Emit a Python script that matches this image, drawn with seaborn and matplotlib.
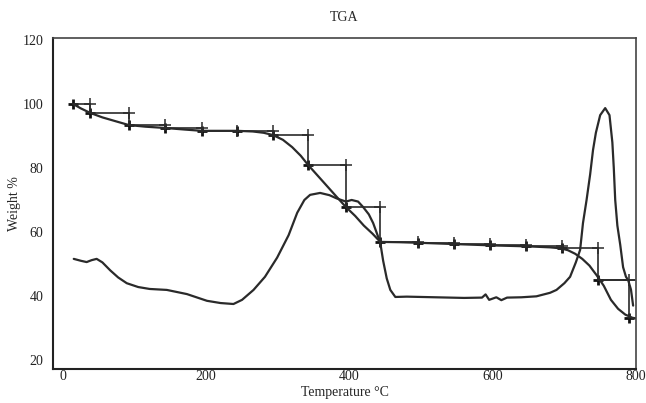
import matplotlib
matplotlib.use("Agg")
import matplotlib.pyplot as plt
import seaborn as sns
import pandas as pd

# TGA weight curve (smooth)
tga_x = [14, 25, 38, 55, 75, 92, 115, 142, 170, 194, 220, 243, 265, 280, 293, 307, 320, 332, 342,
         352, 362, 372, 382, 395, 408, 420, 432, 443, 470, 500, 550, 600, 650, 680, 695, 705, 715,
         725, 735, 745, 755, 765, 775, 785, 795, 800]
tga_y = [100, 98.6, 97.2, 95.8, 94.5, 93.4, 92.9, 92.5, 92.0, 91.6, 91.6, 91.6, 91.4, 91.0, 90.3,
         88.8, 86.5, 83.8, 81, 78.5, 76, 73.5, 71, 67.8, 65, 62, 59.5, 56.9, 56.8, 56.6, 56.2, 55.8,
         55.5, 55.2, 54.9, 54.3, 53.2, 51.6, 49.5, 46.5, 43.2, 38.8, 36.0, 34.2, 33.2, 33]

# Staircase points
step_x = [14, 38, 92, 142, 194, 243, 293, 342, 395, 443, 496, 546, 596, 647, 697, 747, 790]
step_y = [100, 97.2, 93.4, 92.5, 91.6, 91.6, 90.3, 81, 67.8, 56.9, 56.7, 56.3, 55.8, 55.5, 54.9, 45, 33]

# Second (derivative-like) curve
d_x = [15, 25, 33, 40, 47, 55, 66, 77, 89, 105, 121, 145, 173, 201, 220, 238, 250, 266, 282, 299,
       315, 327, 337, 345, 359, 372, 382, 395, 403, 412, 419, 427, 433, 440, 443, 447, 452, 457, 464,
       480, 520, 560, 585, 590, 595, 605, 612, 620, 640, 661, 680, 689, 700, 708, 716, 722, 726, 731,
       736, 740, 744, 750, 757, 763, 767, 769, 771, 774, 778, 782, 786, 789, 793, 796]
d_y = [51.6, 51.0, 50.6, 51.2, 51.6, 50.5, 48, 45.8, 44, 42.8, 42.2, 41.9, 40.6, 38.5, 37.8, 37.5,
       38.8, 41.9, 46, 52, 59, 66, 70, 71.6, 72.2, 71.5, 70.5, 69.5, 70, 69.5, 67.8, 65.5, 62.8, 58.5,
       56.6, 51, 45.5, 41.9, 39.7, 39.8, 39.6, 39.4, 39.5, 40.5, 38.8, 39.6, 38.7, 39.5, 39.6, 39.9,
       41, 41.9, 44, 46, 50.5, 54.4, 62.8, 70, 78, 85.6, 91, 96.5, 98.7, 96.5, 88, 80, 70, 62, 56,
       49, 46, 45, 42, 37]

x_ticks = [0, 200, 400, 600, 800]
y_ticks = [20, 40, 60, 80, 100, 120]

sns.set_style("white")
plt.rcParams['font.family'] = ['Liberation Serif', 'DejaVu Serif']

fig = plt.figure(figsize=(6.46, 4.03), dpi=100)
ax = fig.add_axes([0.082, 0.0844, 0.9025, 0.8213])

df_t = pd.DataFrame({"T": tga_x, "W": tga_y})
df_d = pd.DataFrame({"T": d_x, "W": d_y})
df_s = pd.DataFrame({"T": step_x, "W": step_y})

sns.lineplot(data=df_d, x="T", y="W", ax=ax, color="#2a2a2a", lw=1.6, sort=False)
sns.lineplot(data=df_t, x="T", y="W", ax=ax, color="#2a2a2a", lw=1.6, sort=False)
sns.lineplot(data=df_s, x="T", y="W", ax=ax, color="#2a2a2a", lw=1.2, sort=False,
             drawstyle="steps-post")
# markers at data points and at step corners
corner_x = step_x[1:]
corner_y = step_y[:-1]
sns.scatterplot(x=step_x, y=step_y, ax=ax, marker="+", s=45, color="#111111", linewidth=2.0)
sns.scatterplot(x=corner_x, y=corner_y, ax=ax, marker="+", s=70, color="#2a2a2a", linewidth=1.1)
# last horizontal segment at 45 extends to the right edge
ax.plot([747, 799], [45, 45], color="#2a2a2a", lw=1.2)

ax.set_xlim(-14, 800)
ax.set_ylim(17.2, 120.6)
ax.set_xticks(x_ticks)
ax.set_yticks(y_ticks)
ax.tick_params(length=0, labelsize=10, colors="#222222")
ax.tick_params(axis="x", pad=1)
ax.tick_params(axis="y", pad=7)
ax.set_xlabel("Temperature °C", fontsize=10, labelpad=2)
ax.set_ylabel("Weight %", fontsize=10, labelpad=1)
ax.set_title("TGA", fontsize=10, pad=12)

for side in ["left", "bottom"]:
    ax.spines[side].set_color("#222222")
    ax.spines[side].set_linewidth(1.5)
for side in ["top", "right"]:
    ax.spines[side].set_color("#444444")
    ax.spines[side].set_linewidth(1.2)

fig.savefig("out.png", dpi=100)
